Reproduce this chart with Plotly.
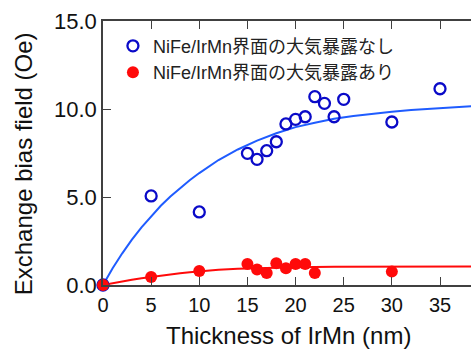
import plotly.graph_objects as go

thick_a = [0, 5, 10, 15, 16, 17, 18, 19, 20, 21, 22, 23, 24, 25, 30, 35]
hex_a = [0.0, 5.06, 4.15, 7.48, 7.14, 7.63, 8.14, 9.15, 9.41, 9.56, 10.7, 10.32, 9.56, 10.55, 9.26, 11.15]

thick_b = [0, 5, 10, 15, 16, 17, 18, 19, 20, 21, 22, 30]
hex_b = [0.0, 0.45, 0.8, 1.19, 0.88, 0.68, 1.23, 0.95, 1.19, 1.19, 0.68, 0.76]

# Fitted curves
fit_x_a = [0, 1, 2, 3, 4, 5, 6, 7, 8, 9, 10, 12, 14, 16, 18, 20, 22, 24, 26, 28, 30, 32, 34, 36, 38.3]
fit_y_a = [0, 0.95, 1.8, 2.58, 3.28, 3.92, 4.5, 5.03, 5.5, 5.95, 6.36, 7.1, 7.7, 8.2, 8.62, 8.97,
           9.22, 9.44, 9.6, 9.73, 9.84, 9.94, 10.02, 10.09, 10.16]
fit_x_b = [0, 1, 2, 3, 4, 5, 6, 7, 8, 9, 10, 12, 14, 16, 18, 20, 24, 28, 32, 38.3]
fit_y_b = [0, 0.11, 0.21, 0.3, 0.39, 0.47, 0.54, 0.61, 0.67, 0.72, 0.78, 0.86, 0.92, 0.96, 0.99,
           1.01, 1.03, 1.04, 1.04, 1.05]

name_a = "NiFe/IrMn界面の大気暴露なし"
name_b = "NiFe/IrMn界面の大気暴露あり"

x_ticks = [0, 5, 10, 15, 20, 25, 30, 35]
y_ticks = [0, 5, 10, 15]
y_tick_text = ["0.0", "5.0", "10.0", "15.0"]

blue_line = "#1f5cff"
blue_mark = "#0a0ac8"
red = "#ff0a0a"
axis_col = "#404040"

fig = go.Figure()
fig.add_trace(go.Scatter(x=fit_x_a, y=fit_y_a, mode="lines", line=dict(color=blue_line, width=2),
                         showlegend=False, cliponaxis=False, hoverinfo="skip"))
fig.add_trace(go.Scatter(x=fit_x_b, y=fit_y_b, mode="lines", line=dict(color=red, width=2),
                         showlegend=False, cliponaxis=False, hoverinfo="skip"))
fig.add_trace(go.Scatter(x=thick_a, y=hex_a, mode="markers", name=name_a,
                         marker=dict(symbol="circle-open", size=11, color=blue_mark,
                                     line=dict(width=2.3, color=blue_mark)),
                         cliponaxis=False))
fig.add_trace(go.Scatter(x=thick_b, y=hex_b, mode="markers", name=name_b,
                         marker=dict(symbol="circle", size=12, color=red),
                         cliponaxis=False))

fig.update_layout(
    width=471, height=349,
    margin=dict(l=103, r=0, t=21, b=64),
    paper_bgcolor="white", plot_bgcolor="white",
    font=dict(family="Liberation Sans, Arial, sans-serif", color="#111111"),
    showlegend=True,
    legend=dict(x=0.027, y=0.975, xanchor="left", yanchor="top",
                bgcolor="rgba(0,0,0,0)",
                font=dict(family="Liberation Sans, Noto Sans CJK JP, sans-serif", size=18, color="#222222"),
                tracegroupgap=0),
    xaxis=dict(range=[0, 38.22], tickvals=x_ticks, ticks="inside", ticklen=8, tickwidth=1.3,
               tickcolor=axis_col, showline=True, linecolor=axis_col, linewidth=1.5,
               mirror="allticks", showgrid=False, zeroline=False,
               tickfont=dict(size=20, color="#111111"), ticklabelstandoff=1),
    yaxis=dict(range=[0, 15], tickvals=y_ticks, ticktext=y_tick_text, ticks="inside", ticklen=8,
               tickwidth=1.3, tickcolor=axis_col, showline=True, linecolor=axis_col, linewidth=1.5,
               showgrid=False, zeroline=False,
               tickfont=dict(size=22, color="#111111"), ticklabelstandoff=0),
    annotations=[
        dict(text="Thickness of IrMn (nm)", xref="paper", yref="paper", x=0.505, y=-0.193,
             xanchor="center", yanchor="middle", showarrow=False,
             font=dict(size=24, color="#111111")),
        dict(text="Exchange bias field (Oe)", xref="paper", yref="paper", x=-0.217, y=0.458,
             xanchor="center", yanchor="middle", showarrow=False, textangle=-90,
             font=dict(size=24, color="#111111")),
    ],
)

# remove the browser's default body margin so the figure fills the 471x349 window
fig.write_html("out.html", config={"displayModeBar": False},
               post_script="document.body.style.margin='0';document.body.style.overflow='hidden';")
